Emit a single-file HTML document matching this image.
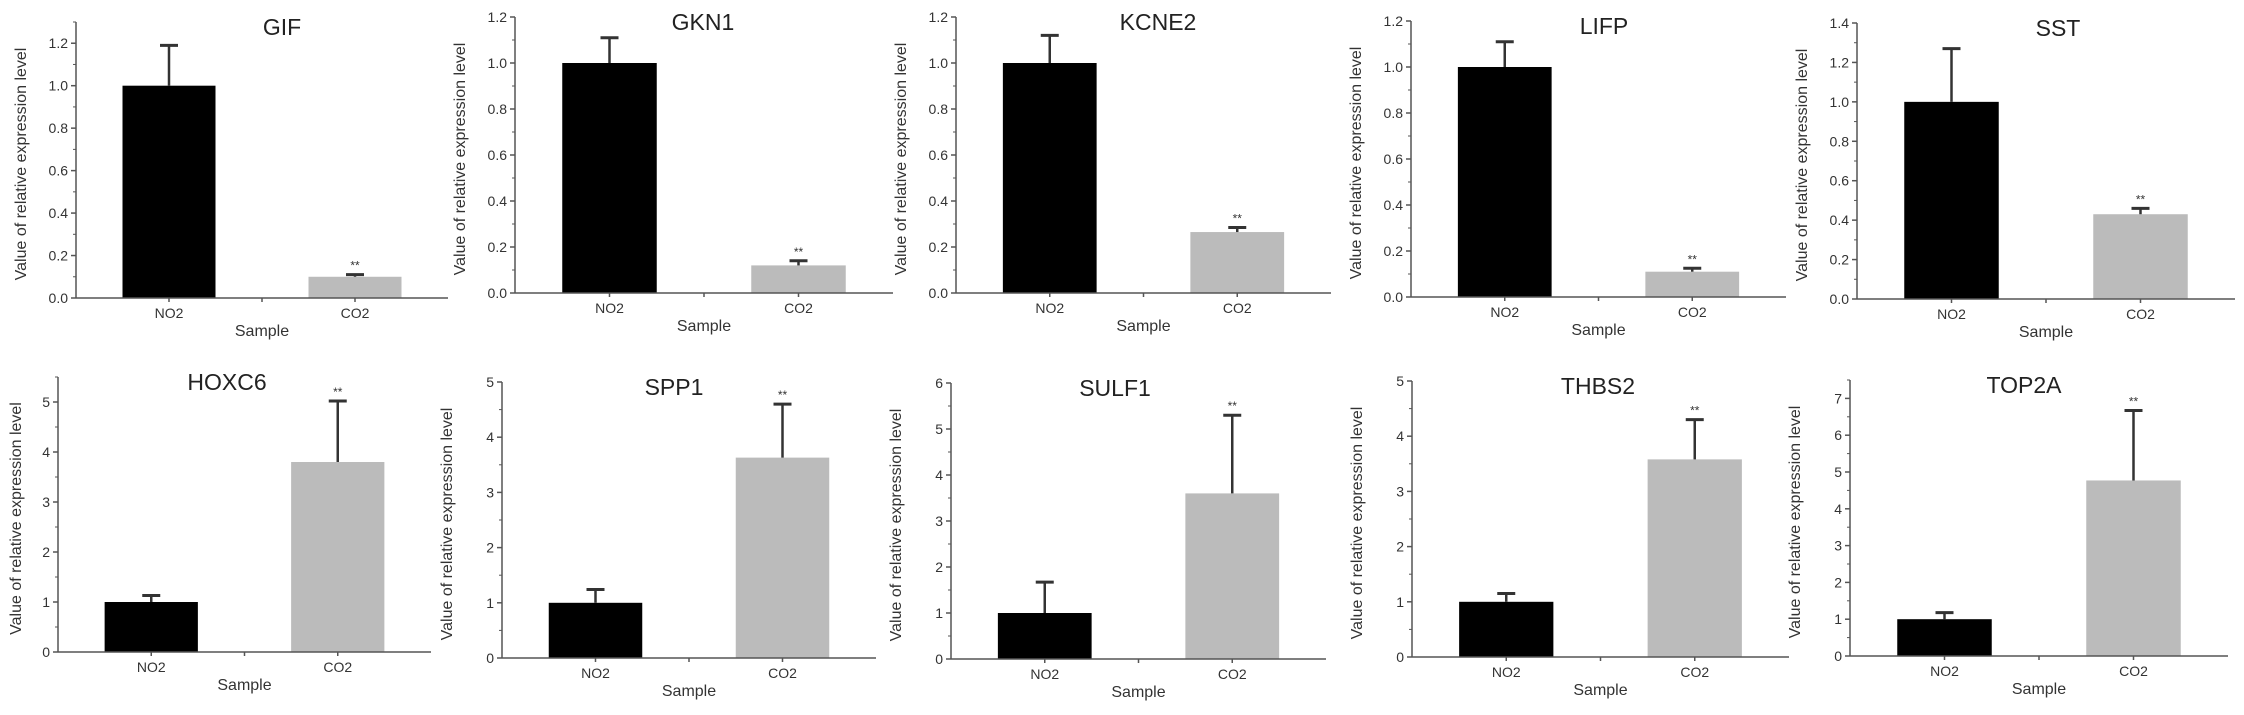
<!DOCTYPE html>
<html><head><meta charset="utf-8"><style>
html,body{margin:0;padding:0;background:#fff;}
svg{display:block;font-family:"Liberation Sans",Arial,sans-serif;}
</style></head><body>
<svg id="fig" width="2244" height="715" viewBox="0 0 2244 715" xmlns="http://www.w3.org/2000/svg"></svg>
<script>
const genes = ["GIF","GKN1","KCNE2","LIFP","SST","HOXC6","SPP1","SULF1","THBS2","TOP2A"];
const categories = ["NO2","CO2"];
const no2Values = [1.0,1.0,1.0,1.0,1.0, 1.0,1.0,1.0,1.0,1.0];
const no2ErrTop = [1.19,1.11,1.12,1.11,1.27, 1.13,1.24,1.67,1.15,1.18];
const co2Values = [0.10,0.12,0.265,0.11,0.43, 3.8,3.63,3.6,3.58,4.77];
const co2ErrTop = [0.11,0.14,0.285,0.125,0.46, 5.02,4.6,5.3,4.3,6.67];
const yMax = [1.3,1.2,1.2,1.2,1.4, 5.5,5,6,5,7.5];
const yStep = [0.2,0.2,0.2,0.2,0.2, 1,1,1,1,1];
const yDecimals = [1,1,1,1,1, 0,0,0,0,0];
const sigLabel = "**";

// layout (pixel geometry, not data)
const layout = [
 {ax:76, end:448, top:22, zero:298, tx:282},
 {ax:515, end:893, top:17, zero:293, tx:703},
 {ax:956, end:1331, top:17, zero:293, tx:1158},
 {ax:1411, end:1786, top:21, zero:297, tx:1604},
 {ax:1857, end:2235, top:23, zero:299, tx:2058},
 {ax:58, end:431, top:377, zero:652, tx:227},
 {ax:502, end:876, top:382, zero:658, tx:674},
 {ax:951, end:1326, top:383, zero:659, tx:1115},
 {ax:1412, end:1789, top:381, zero:657, tx:1598},
 {ax:1850, end:2228, top:380, zero:656, tx:2024}
];
const NS="http://www.w3.org/2000/svg";
const svg=document.getElementById('fig');
function mk(tag, attrs, parent){const e=document.createElementNS(NS,tag);for(const k in attrs)e.setAttribute(k,attrs[k]);(parent||svg).appendChild(e);return e;}
const AX="#555", TXT="#333";
genes.forEach((g,i)=>{
  const L=layout[i];
  const grp=mk('g',{});
  
  
  const y=v=>L.zero-(v/yMax[i])*(L.zero-L.top);
  const len=L.end-L.ax;
  const xc=k=>L.ax+len*(0.25+0.5*k);
  const bw=len*0.25;
  const vals=[no2Values[i],co2Values[i]], errs=[no2ErrTop[i],co2ErrTop[i]];
  vals.forEach((v,k)=>{
    const b=mk('rect',{x:xc(k)-bw/2,y:y(v),width:bw,height:L.zero-y(v),fill:k===0?'#000':'#bbb'},grp);
    
    
    const eb=mk('g',{},grp);
    
    
    mk('line',{x1:xc(k),x2:xc(k),y1:y(v),y2:y(errs[k]),stroke:'#333','stroke-width':2.5},eb);
    mk('line',{x1:xc(k)-9,x2:xc(k)+9,y1:y(errs[k]),y2:y(errs[k]),stroke:'#333','stroke-width':3},eb);
  });
  const s=mk('text',{x:xc(1),y:y(errs[1])-5,'text-anchor':'middle','font-size':12,fill:TXT},grp);
  s.textContent=sigLabel;
  
  
  const ya=mk('line',{x1:L.ax,x2:L.ax,y1:L.top,y2:L.zero,stroke:AX,'stroke-width':1.5},grp);
  
  
  const xa=mk('line',{x1:L.ax,x2:L.end,y1:L.zero,y2:L.zero,stroke:AX,'stroke-width':1.5},grp);
  
  
  const n=Math.floor(yMax[i]/yStep[i]+1e-6);
  for(let t=0;t<=n;t++){
    const v=t*yStep[i];
    mk('line',{x1:L.ax-5,x2:L.ax,y1:y(v),y2:y(v),stroke:AX,'stroke-width':1.5},grp);
    const tl=mk('text',{x:L.ax-8,y:y(v)+5,'text-anchor':'end','font-size':14,fill:TXT},grp);
    tl.textContent=v.toFixed(yDecimals[i]);
    
    
    const mv=v+yStep[i]/2;
    if(mv<=yMax[i]+1e-6) mk('line',{x1:L.ax-3,x2:L.ax,y1:y(mv),y2:y(mv),stroke:AX,'stroke-width':1},grp);
  }
  [xc(0), L.ax+len/2, xc(1)].forEach(tx=>mk('line',{x1:tx,x2:tx,y1:L.zero,y2:L.zero+4,stroke:AX,'stroke-width':1.5},grp));
  categories.forEach((c,k)=>{
    const cl=mk('text',{x:xc(k),y:L.zero+20,'text-anchor':'middle','font-size':14,fill:TXT},grp);
    cl.textContent=c;
    
    
  });
  const xt=mk('text',{x:L.ax+len/2,y:L.zero+38,'text-anchor':'middle','font-size':16,fill:TXT},grp);
  xt.textContent="Sample";
  
  
  const cy=(L.top+L.zero)/2+4;
  const tX=Math.max(L.ax-50, 21);
  const yt=mk('text',{x:0,y:0,'text-anchor':'middle','font-size':16,fill:TXT,transform:`translate(${tX},${cy}) rotate(-90)`},grp);
  yt.textContent="Value of relative expression level";
  
  
  const tt=mk('text',{x:L.tx,y:L.top+13,'text-anchor':'middle','font-size':23,fill:'#222'},grp);
  tt.textContent=g;
  
  
});
</script>
</body></html>
